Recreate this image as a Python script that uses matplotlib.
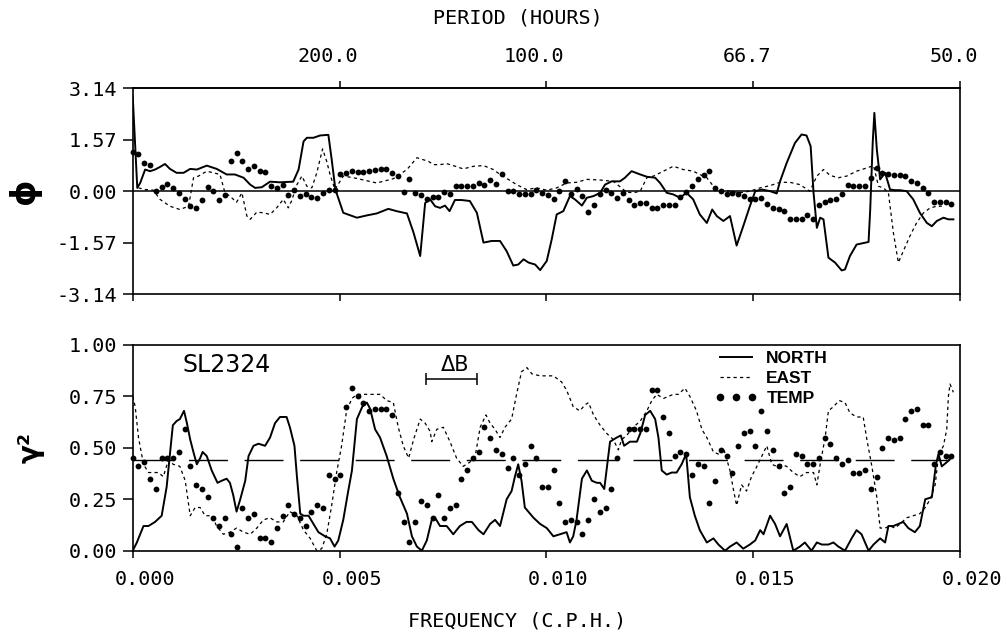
import numpy as np
import matplotlib
matplotlib.use("Agg")
import matplotlib.pyplot as plt
from matplotlib.lines import Line2D
from matplotlib.transforms import ScaledTranslation

# ---------------- data ----------------
FREQ_TICKS = [0.000, 0.005, 0.010, 0.015, 0.020]
PERIOD_TICK_FREQ = [0.005, 0.010, 0.015, 0.020]          # labelled as period = 1/f
PHASE_TICKS = [-3.14, -1.57, 0.00, 1.57, 3.14]
COH_TICKS = [0.00, 0.25, 0.50, 0.75, 1.00]
SIG_LEVEL = 0.44                                          # dashed significance level
DELTA_B_CENTER = 0.00770
DELTA_B = 0.00123

# phase (radians): NORTH (solid) as (frequency, value)
north_phase = [
    (0.00000, 2.90), (0.00011, 0.10), (0.00018, 0.25), (0.00030, 0.66), (0.00042, 0.61),
    (0.00054, 0.66), (0.00066, 0.74), (0.00078, 0.83), (0.00090, 0.68), (0.00106, 0.56),
    (0.00123, 0.56), (0.00139, 0.68), (0.00155, 0.66), (0.00179, 0.78), (0.00203, 0.68),
    (0.00227, 0.51), (0.00247, 0.51), (0.00268, 0.41), (0.00284, 0.20), (0.00296, 0.10),
    (0.00312, 0.12), (0.00332, 0.29), (0.00356, 0.27), (0.00388, 0.29), (0.00401, 0.66),
    (0.00413, 1.52), (0.00421, 1.63), (0.00437, 1.63), (0.00453, 1.70), (0.00473, 1.72),
    (0.00481, 0.97), (0.00490, 0.05), (0.00498, -0.25), (0.00509, -0.66), (0.00542, -0.81),
    (0.00566, -0.74), (0.00590, -0.68), (0.00618, -0.54), (0.00638, -0.61), (0.00663, -0.68),
    (0.00679, -1.27), (0.00695, -1.98), (0.00707, -0.36), (0.00719, -0.25), (0.00731, -0.46),
    (0.00743, -0.51), (0.00755, -0.44), (0.00766, -0.61), (0.00779, -0.27), (0.00795, -0.27),
    (0.00815, -0.30), (0.00832, -0.66), (0.00848, -1.57), (0.00868, -1.52), (0.00888, -1.52),
    (0.00904, -1.83), (0.00920, -2.27), (0.00932, -2.24), (0.00945, -2.08), (0.00957, -2.18),
    (0.00973, -2.24), (0.00985, -2.41), (0.01001, -2.13), (0.01013, -1.47), (0.01025, -0.71),
    (0.01041, -0.61), (0.01057, -0.15), (0.01069, -0.25), (0.01086, -0.44), (0.01098, -0.20),
    (0.01114, -0.15), (0.01130, -0.05), (0.01142, 0.20), (0.01158, 0.30), (0.01178, 0.30),
    (0.01190, 0.41), (0.01206, 0.61), (0.01227, 0.51), (0.01243, 0.44), (0.01263, 0.41),
    (0.01275, 0.25), (0.01291, -0.05), (0.01307, -0.10), (0.01323, -0.20), (0.01339, -0.05),
    (0.01355, -0.25), (0.01371, -0.71), (0.01388, -0.97), (0.01401, -0.56), (0.01412, -0.76),
    (0.01428, -0.91), (0.01444, -0.76), (0.01460, -1.66), (0.01476, -1.07), (0.01492, -0.46),
    (0.01505, 0.00), (0.01521, 0.05), (0.01541, 0.00), (0.01557, -0.07), (0.01565, 0.30),
    (0.01581, 0.86), (0.01601, 1.47), (0.01617, 1.73), (0.01629, 1.70), (0.01639, 1.37),
    (0.01646, -0.05), (0.01654, -1.12), (0.01662, -0.81), (0.01670, -0.86), (0.01682, -2.03),
    (0.01698, -2.18), (0.01714, -2.42), (0.01722, -2.39), (0.01734, -1.98), (0.01750, -1.63),
    (0.01779, -1.55), (0.01783, -0.56), (0.01789, 1.47), (0.01793, 2.39), (0.01799, 1.27),
    (0.01807, 0.36), (0.01819, 0.56), (0.01831, 0.05), (0.01843, 0.03), (0.01855, 0.03),
    (0.01871, 0.00), (0.01887, -0.25), (0.01903, -0.66), (0.01920, -0.97), (0.01932, -1.07),
    (0.01944, -0.91), (0.01960, -0.81), (0.01972, -0.86), (0.01984, -0.86),
]

# phase (radians): EAST (dashed)
east_phase = [
    (0.00014, 0.10), (0.00030, 0.05), (0.00050, 0.03), (0.00066, -0.25), (0.00090, -0.46),
    (0.00114, -0.56), (0.00135, -0.46), (0.00147, 0.41), (0.00159, 0.46), (0.00179, 0.61),
    (0.00195, 0.56), (0.00211, 0.51), (0.00223, -0.05), (0.00235, -0.15), (0.00251, -0.34),
    (0.00264, -0.05), (0.00276, -0.76), (0.00284, -0.86), (0.00300, -0.64), (0.00316, -0.66),
    (0.00332, -0.71), (0.00348, -0.51), (0.00364, -0.25), (0.00376, -0.51), (0.00384, -0.30),
    (0.00397, 0.20), (0.00409, 0.46), (0.00421, 0.15), (0.00433, 0.10), (0.00445, 0.56),
    (0.00459, 1.29), (0.00469, 0.91), (0.00477, 0.51), (0.00489, 0.05), (0.00509, 0.46),
    (0.00534, 0.41), (0.00558, 0.34), (0.00590, 0.25), (0.00630, 0.38), (0.00663, 0.66),
    (0.00687, 1.02), (0.00715, 0.91), (0.00727, 0.81), (0.00743, 0.81), (0.00759, 0.84),
    (0.00775, 0.78), (0.00799, 0.68), (0.00824, 0.76), (0.00848, 0.78), (0.00872, 0.66),
    (0.00888, 0.51), (0.00908, 0.36), (0.00928, 0.20), (0.00952, 0.05), (0.00977, 0.10),
    (0.01001, 0.03), (0.01025, 0.10), (0.01049, 0.25), (0.01073, 0.27), (0.01098, 0.36),
    (0.01130, 0.34), (0.01162, 0.30), (0.01194, -0.03), (0.01210, -0.05), (0.01227, 0.00),
    (0.01243, 0.41), (0.01259, 0.46), (0.01283, 0.61), (0.01307, 0.76), (0.01331, 0.66),
    (0.01355, 0.61), (0.01371, 0.51), (0.01388, 0.41), (0.01404, 0.15), (0.01420, 0.05),
    (0.01444, 0.00), (0.01468, -0.05), (0.01492, 0.00), (0.01517, 0.10), (0.01541, 0.17),
    (0.01565, 0.27), (0.01589, 0.27), (0.01613, 0.20), (0.01637, 0.00), (0.01654, 0.46),
    (0.01670, 0.66), (0.01686, 0.48), (0.01706, 0.41), (0.01726, 0.46), (0.01750, 0.61),
    (0.01775, 0.71), (0.01791, 0.78), (0.01803, 0.15), (0.01815, 0.10), (0.01827, -0.05),
    (0.01839, -1.27), (0.01851, -2.18), (0.01863, -1.83), (0.01879, -1.37), (0.01895, -0.97),
    (0.01912, -0.66), (0.01928, -0.51), (0.01944, -0.46), (0.01956, -0.46),
]

# TEMP estimates sit on the spectral frequency grid
TEMP_DF = 0.0001394
temp_phase = [
    1.20, 1.14, 0.86, 0.81, 0.00, 0.12, 0.23, 0.10, -0.07, -0.25,
    -0.44, -0.51, -0.28, 0.13, 0.02, -0.28, -0.13, 0.91, 1.15, 0.91,
    0.69, 0.78, 0.61, 0.59, 0.17, 0.10, 0.20, -0.12, 0.05, -0.15,
    -0.10, -0.18, -0.20, -0.05, 0.03, 0.05, 0.51, 0.56, 0.63, 0.58,
    0.59, 0.61, 0.64, 0.69, 0.68, 0.56, 0.46, -0.03, 0.36, -0.05,
    -0.13, -0.25, -0.17, -0.17, -0.03, -0.10, 0.15, 0.15, 0.17, 0.15,
    0.25, 0.19, 0.34, 0.23, 0.51, 0.02, 0.02, -0.10, -0.10, -0.10,
    0.05, -0.07, -0.13, -0.23, 0.00, 0.30, -0.10, 0.07, -0.15, -0.63,
    -0.43, -0.10, 0.03, -0.05, -0.20, -0.05, -0.28, -0.41, -0.36, -0.36,
    -0.51, -0.51, -0.43, -0.43, -0.41, -0.18, -0.04, 0.17, 0.36, 0.48,
    0.61, 0.10, 0.00, -0.10, -0.05, -0.10, -0.15, -0.23, -0.23, -0.20,
    -0.38, -0.51, -0.54, -0.61, -0.84, -0.86, -0.86, -0.74, -0.84, -0.41,
    -0.34, -0.27, -0.23, -0.10, 0.20, 0.17, 0.15, 0.17, 0.41, 0.71,
    0.56, 0.51, 0.48, 0.49, 0.46, 0.30, 0.25, 0.10, -0.05, -0.34,
    -0.34, -0.34, -0.38,
]

# coherence squared: NORTH (solid)
north_coh = [
    (0.00000, 0.00), (0.00010, 0.04), (0.00026, 0.12), (0.00038, 0.12), (0.00054, 0.14),
    (0.00070, 0.17), (0.00082, 0.31), (0.00097, 0.61), (0.00106, 0.63), (0.00114, 0.64),
    (0.00124, 0.68), (0.00131, 0.62), (0.00139, 0.54), (0.00148, 0.47), (0.00155, 0.42),
    (0.00163, 0.45), (0.00169, 0.48), (0.00179, 0.46), (0.00191, 0.39), (0.00205, 0.33),
    (0.00215, 0.34), (0.00227, 0.35), (0.00235, 0.33), (0.00243, 0.27), (0.00251, 0.19),
    (0.00260, 0.25), (0.00272, 0.34), (0.00280, 0.46), (0.00292, 0.51), (0.00304, 0.52),
    (0.00320, 0.51), (0.00332, 0.55), (0.00344, 0.62), (0.00356, 0.65), (0.00372, 0.65),
    (0.00380, 0.60), (0.00391, 0.51), (0.00397, 0.36), (0.00405, 0.18), (0.00413, 0.17),
    (0.00425, 0.17), (0.00437, 0.13), (0.00449, 0.09), (0.00465, 0.07), (0.00477, 0.06),
    (0.00488, 0.02), (0.00497, 0.05), (0.00509, 0.15), (0.00521, 0.29), (0.00530, 0.39),
    (0.00542, 0.64), (0.00555, 0.70), (0.00566, 0.72), (0.00574, 0.69), (0.00586, 0.59),
    (0.00598, 0.55), (0.00614, 0.46), (0.00630, 0.35), (0.00646, 0.26), (0.00663, 0.18),
    (0.00675, 0.07), (0.00687, 0.02), (0.00699, 0.00), (0.00711, 0.05), (0.00723, 0.15),
    (0.00731, 0.16), (0.00743, 0.12), (0.00759, 0.12), (0.00775, 0.08), (0.00791, 0.12),
    (0.00807, 0.14), (0.00820, 0.14), (0.00836, 0.10), (0.00848, 0.08), (0.00864, 0.13),
    (0.00876, 0.15), (0.00888, 0.12), (0.00904, 0.25), (0.00916, 0.29), (0.00924, 0.36),
    (0.00932, 0.42), (0.00940, 0.34), (0.00948, 0.21), (0.00969, 0.16), (0.00985, 0.13),
    (0.01001, 0.11), (0.01017, 0.07), (0.01033, 0.08), (0.01049, 0.09), (0.01057, 0.04),
    (0.01065, 0.07), (0.01073, 0.15), (0.01086, 0.35), (0.01098, 0.39), (0.01110, 0.34),
    (0.01122, 0.33), (0.01130, 0.33), (0.01140, 0.30), (0.01154, 0.53), (0.01170, 0.55),
    (0.01180, 0.56), (0.01188, 0.51), (0.01202, 0.53), (0.01219, 0.53), (0.01227, 0.57),
    (0.01239, 0.66), (0.01251, 0.68), (0.01263, 0.64), (0.01271, 0.55), (0.01279, 0.39),
    (0.01291, 0.37), (0.01303, 0.38), (0.01315, 0.38), (0.01327, 0.42), (0.01338, 0.47),
    (0.01347, 0.26), (0.01359, 0.17), (0.01371, 0.10), (0.01388, 0.04), (0.01404, 0.06),
    (0.01416, 0.03), (0.01432, 0.00), (0.01444, 0.02), (0.01460, 0.04), (0.01476, 0.01),
    (0.01492, 0.03), (0.01505, 0.05), (0.01517, 0.10), (0.01525, 0.08), (0.01541, 0.17),
    (0.01553, 0.13), (0.01565, 0.07), (0.01581, 0.13), (0.01597, 0.00), (0.01613, 0.02),
    (0.01625, 0.04), (0.01641, 0.00), (0.01654, 0.04), (0.01666, 0.03), (0.01682, 0.03),
    (0.01694, 0.04), (0.01706, 0.02), (0.01722, 0.00), (0.01738, 0.06), (0.01750, 0.10),
    (0.01762, 0.08), (0.01779, 0.00), (0.01791, 0.03), (0.01807, 0.06), (0.01819, 0.04),
    (0.01827, 0.12), (0.01839, 0.12), (0.01851, 0.13), (0.01863, 0.14), (0.01875, 0.11),
    (0.01891, 0.09), (0.01903, 0.12), (0.01916, 0.25), (0.01932, 0.26), (0.01942, 0.42),
    (0.01948, 0.47), (0.01956, 0.41), (0.01968, 0.43), (0.01978, 0.45),
]

# coherence squared: EAST (dashed)
east_coh = [
    (0.00000, 0.75), (0.00006, 0.70), (0.00014, 0.55), (0.00026, 0.42), (0.00038, 0.38),
    (0.00050, 0.38), (0.00062, 0.38), (0.00074, 0.36), (0.00086, 0.44), (0.00098, 0.42),
    (0.00114, 0.41), (0.00127, 0.34), (0.00139, 0.17), (0.00151, 0.21), (0.00163, 0.21),
    (0.00175, 0.17), (0.00191, 0.17), (0.00203, 0.12), (0.00219, 0.08), (0.00235, 0.09),
    (0.00251, 0.11), (0.00268, 0.09), (0.00284, 0.08), (0.00300, 0.11), (0.00316, 0.15),
    (0.00332, 0.16), (0.00348, 0.14), (0.00364, 0.14), (0.00380, 0.19), (0.00397, 0.17),
    (0.00413, 0.10), (0.00429, 0.06), (0.00445, 0.00), (0.00457, 0.01), (0.00469, 0.08),
    (0.00481, 0.22), (0.00493, 0.38), (0.00505, 0.51), (0.00517, 0.68), (0.00530, 0.74),
    (0.00542, 0.76), (0.00558, 0.76), (0.00574, 0.76), (0.00598, 0.76), (0.00614, 0.73),
    (0.00630, 0.72), (0.00642, 0.60), (0.00654, 0.51), (0.00667, 0.45), (0.00679, 0.54),
    (0.00695, 0.64), (0.00707, 0.62), (0.00719, 0.58), (0.00723, 0.53), (0.00735, 0.59),
    (0.00751, 0.60), (0.00767, 0.53), (0.00783, 0.45), (0.00799, 0.41), (0.00815, 0.43),
    (0.00828, 0.46), (0.00840, 0.60), (0.00854, 0.66), (0.00864, 0.62), (0.00876, 0.59),
    (0.00888, 0.55), (0.00900, 0.60), (0.00916, 0.64), (0.00928, 0.76), (0.00940, 0.87),
    (0.00953, 0.89), (0.00965, 0.86), (0.00985, 0.85), (0.01001, 0.85), (0.01017, 0.85),
    (0.01037, 0.82), (0.01049, 0.78), (0.01065, 0.70), (0.01081, 0.68), (0.01094, 0.71),
    (0.01102, 0.72), (0.01114, 0.66), (0.01130, 0.61), (0.01146, 0.57), (0.01162, 0.54),
    (0.01174, 0.49), (0.01182, 0.54), (0.01194, 0.56), (0.01210, 0.60), (0.01227, 0.63),
    (0.01243, 0.68), (0.01255, 0.73), (0.01267, 0.76), (0.01283, 0.74), (0.01295, 0.75),
    (0.01307, 0.76), (0.01319, 0.76), (0.01335, 0.79), (0.01347, 0.75), (0.01363, 0.68),
    (0.01376, 0.59), (0.01388, 0.55), (0.01404, 0.48), (0.01416, 0.47), (0.01428, 0.50),
    (0.01444, 0.39), (0.01452, 0.30), (0.01460, 0.22), (0.01472, 0.32), (0.01484, 0.29),
    (0.01496, 0.36), (0.01509, 0.41), (0.01521, 0.46), (0.01533, 0.51), (0.01545, 0.42),
    (0.01557, 0.41), (0.01565, 0.42), (0.01581, 0.41), (0.01597, 0.38), (0.01613, 0.36),
    (0.01629, 0.38), (0.01646, 0.38), (0.01654, 0.32), (0.01662, 0.42), (0.01674, 0.55),
    (0.01682, 0.68), (0.01694, 0.70), (0.01708, 0.73), (0.01722, 0.72), (0.01734, 0.67),
    (0.01750, 0.65), (0.01766, 0.65), (0.01775, 0.54), (0.01787, 0.41), (0.01799, 0.26),
    (0.01807, 0.11), (0.01819, 0.11), (0.01831, 0.12), (0.01843, 0.11), (0.01855, 0.13),
    (0.01871, 0.16), (0.01887, 0.17), (0.01903, 0.18), (0.01916, 0.21), (0.01928, 0.25),
    (0.01940, 0.32), (0.01948, 0.46), (0.01960, 0.51), (0.01968, 0.59), (0.01972, 0.75),
    (0.01976, 0.81), (0.01984, 0.77),
]

temp_coh = [
    0.45, 0.41, 0.43, 0.35, 0.30, 0.45, 0.45, 0.45, 0.48, 0.59,
    0.41, 0.32, 0.30, 0.26, 0.16, 0.12, 0.16, 0.08, 0.02, 0.21,
    0.16, 0.18, 0.06, 0.06, 0.04, 0.11, 0.17, 0.22, 0.18, 0.16,
    0.12, 0.19, 0.22, 0.21, 0.37, 0.35, 0.37, 0.70, 0.79, 0.75,
    0.72, 0.68, 0.69, 0.69, 0.69, 0.66, 0.28, 0.14, 0.04, 0.14,
    0.24, 0.22, 0.16, 0.27, 0.16, 0.21, 0.22, 0.35, 0.39, 0.45,
    0.48, 0.60, 0.55, 0.49, 0.47, 0.40, 0.45, 0.37, 0.42, 0.51,
    0.45, 0.31, 0.31, 0.39, 0.23, 0.14, 0.15, 0.14, 0.08, 0.15,
    0.25, 0.19, 0.21, 0.30, 0.45, np.nan, 0.59, 0.59, 0.59, 0.59,
    0.78, 0.78, 0.65, 0.57, 0.46, 0.48, 0.47, 0.37, 0.42, 0.41,
    0.23, 0.34, 0.49, 0.46, 0.38, 0.51, 0.57, 0.58, 0.51, 0.68,
    0.58, 0.49, 0.41, 0.28, 0.31, 0.47, 0.46, 0.42, 0.42, 0.45,
    0.55, 0.52, 0.45, 0.42, 0.44, 0.38, 0.38, 0.39, 0.30, 0.36,
    0.50, 0.55, 0.54, 0.55, 0.64, 0.68, 0.69, 0.61, 0.61, 0.42,
    0.48, 0.46, 0.46,
]

# ---------------- figure ----------------
MONO = "DejaVu Sans Mono"
TICK_FS = 14.5
CHAR_W_PT = 0.602 * TICK_FS

fig = plt.figure(figsize=(10.07, 6.33), dpi=100)
ax1 = fig.add_axes([0.1318, 0.5355, 0.8215, 0.325])
ax2 = fig.add_axes([0.1318, 0.130, 0.8215, 0.325])

def xy(pairs):
    a = np.array(pairs, dtype=float)
    return a[:, 0], a[:, 1]

temp_f_top = np.arange(len(temp_phase)) * TEMP_DF
temp_f_bot = np.arange(len(temp_coh)) * TEMP_DF

# top panel: phase
ax1.axhline(0.0, color="k", lw=1.1, zorder=1)
f, v = xy(north_phase)
ax1.plot(f, v, color="k", lw=1.4, zorder=3)
f, v = xy(east_phase)
ax1.plot(f, v, color="k", lw=0.9, ls=(0, (2.6, 2.6)), zorder=2)
ax1.plot(temp_f_top, temp_phase, ls="none", marker="o", ms=4.2, color="k",
         mew=0, zorder=4, clip_on=False)

# bottom panel: coherence squared
ax2.axhline(SIG_LEVEL, color="k", lw=1.0, ls=(0, (28, 12)), zorder=1)
f, v = xy(north_coh)
ax2.plot(f, v, color="k", lw=1.4, zorder=3)
f, v = xy(east_coh)
ax2.plot(f, v, color="k", lw=0.9, ls=(0, (2.6, 2.6)), zorder=2)
ax2.plot(temp_f_bot, temp_coh, ls="none", marker="o", ms=4.2, color="k",
         mew=0, zorder=4, clip_on=False)

for ax in (ax1, ax2):
    ax.set_xlim(FREQ_TICKS[0], FREQ_TICKS[-1])
    ax.set_xticks(FREQ_TICKS)
    for s in ax.spines.values():
        s.set_linewidth(1.2)
    ax.tick_params(axis="y", direction="out", length=7, width=1.1, pad=4,
                   labelsize=TICK_FS, labelfontfamily=MONO)
    ax.tick_params(axis="x", direction="out", length=5, width=1.1, pad=9,
                   labelsize=TICK_FS, labelfontfamily=MONO)

ax1.set_ylim(PHASE_TICKS[0], PHASE_TICKS[-1])
ax1.set_yticks(PHASE_TICKS)
ax1.set_yticklabels([f"{t:.2f}" for t in PHASE_TICKS])
ax1.tick_params(axis="x", labelbottom=False)

ax2.set_ylim(COH_TICKS[0], COH_TICKS[-1])
ax2.set_yticks(COH_TICKS)
ax2.set_yticklabels([f"{t:.2f}" for t in COH_TICKS])
ax2.set_xticklabels([f"{t:.3f}" for t in FREQ_TICKS])

# period axis on top of upper panel
sec = ax1.secondary_xaxis("top")
sec.set_xticks(PERIOD_TICK_FREQ)
sec.set_xticklabels([f"{1.0 / t:.1f}" for t in PERIOD_TICK_FREQ])
sec.tick_params(axis="x", direction="out", length=5, width=1.1, pad=11,
                labelsize=TICK_FS, labelfontfamily=MONO)
sec.spines["top"].set_linewidth(1.2)

# align tick labels on the decimal point
def align_on_point(labels):
    for lab in labels:
        s = lab.get_text()
        if "." not in s:
            continue
        i = s.index(".")
        shift = -(i + 0.5 - len(s) / 2.0) * CHAR_W_PT
        lab.set_transform(lab.get_transform() +
                          ScaledTranslation(shift / 72.0, 0, fig.dpi_scale_trans))

align_on_point(ax2.get_xticklabels())
align_on_point(sec.get_xticklabels())

# axis labels
sec.set_xlabel("PERIOD (HOURS)", fontfamily=MONO, fontsize=TICK_FS)
sec.xaxis.set_label_coords(0.465, 1.34, transform=ax1.transAxes)
sec.xaxis.label.set_va("center")
ax2.set_xlabel("FREQUENCY (C.P.H.)", fontfamily=MONO, fontsize=TICK_FS)
ax2.xaxis.set_label_coords(0.465, -0.34)
ax2.xaxis.label.set_va("center")

ax1.set_ylabel("\u03d5", fontfamily="DejaVu Sans", fontsize=24, fontweight="bold")
ax1.yaxis.set_label_coords(-0.131, 0.5)
ax1.yaxis.label.set_va("center")
ax2.set_ylabel("\u03b3\u00b2", fontfamily="DejaVu Sans", fontsize=20, fontweight="bold")
ax2.yaxis.set_label_coords(-0.124, 0.5)
ax2.yaxis.label.set_va("center")

# annotations
ax2.text(0.06, 0.903, "SL2324", transform=ax2.transAxes, fontsize=17,
         fontfamily="DejaVu Sans", ha="left", va="center")
ax2.text(DELTA_B_CENTER + 0.0001, 0.905, "\u0394B", fontsize=15,
         fontfamily="DejaVu Sans", ha="center", va="center")
ax2.errorbar([DELTA_B_CENTER], [0.835], xerr=[DELTA_B / 2], fmt="none",
             ecolor="k", elinewidth=1.1, capsize=4.5, capthick=1.1)

handles = [
    Line2D([], [], color="k", lw=1.4),
    Line2D([], [], color="k", lw=0.9, ls=(0, (2.6, 2.6))),
    Line2D([], [], color="k", ls="none", marker="o", ms=5.5, mew=0),
]
ax2.legend(handles, ["NORTH", "EAST", "TEMP"], loc="upper left",
           bbox_to_anchor=(0.704, 0.97), frameon=False,
           prop=dict(family="Liberation Sans", weight="bold", size=12.5),
           handlelength=2.4, handletextpad=0.55, labelspacing=0.28,
           borderpad=0, borderaxespad=0, numpoints=3)

fig.savefig("out.png", dpi=100)
